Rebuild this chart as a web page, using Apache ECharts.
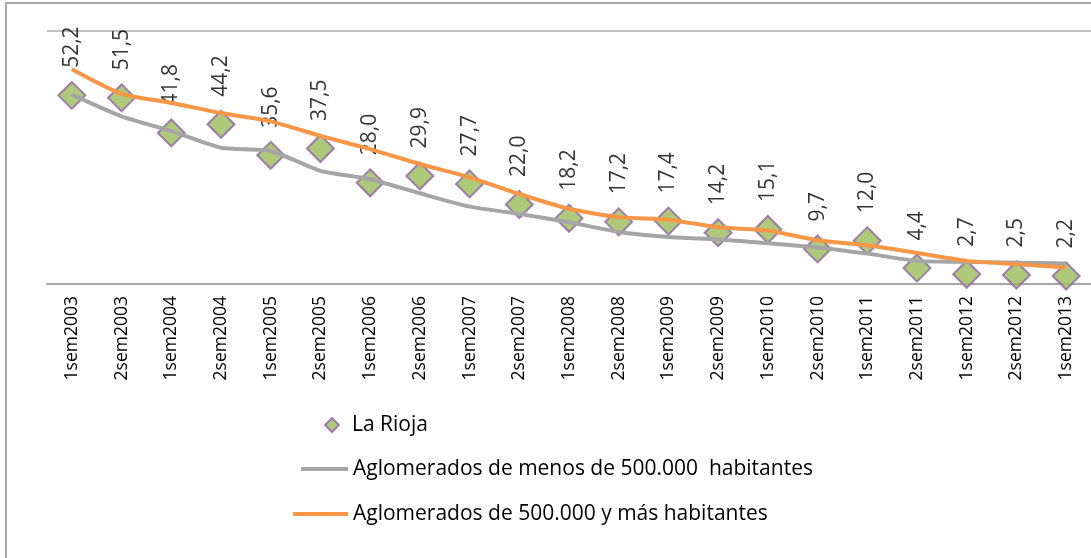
<!DOCTYPE html>
<html>
<head>
<meta charset="utf-8">
<script src="https://cdn.jsdelivr.net/npm/echarts@6/dist/echarts.min.js"></script>
<style>
    html, body { margin: 0; padding: 0; background: #fff; overflow: hidden; }
    #frame { position: absolute; left: 5px; top: 2px; width: 1300px; height: 800px; border: 2px solid #a6a6a6; }
    #main { position: absolute; left: 0; top: 0; width: 1091px; height: 558px; }
</style>
</head>
<body>
<div id="frame"></div>
<div id="main"></div>
<script>
    // categorias (semestres)
    var semestres = ['1sem2003', '2sem2003', '1sem2004', '2sem2004', '1sem2005', '2sem2005', '1sem2006',
        '2sem2006', '1sem2007', '2sem2007', '1sem2008', '2sem2008', '1sem2009', '2sem2009', '1sem2010',
        '2sem2010', '1sem2011', '2sem2011', '1sem2012', '2sem2012', '1sem2013'];

    // valores
    var laRioja = [52.2, 51.5, 41.8, 44.2, 35.6, 37.5, 28.0, 29.9, 27.7, 22.0, 18.2, 17.2, 17.4, 14.2,
        15.1, 9.7, 12.0, 4.4, 2.7, 2.5, 2.2];
    var menos500 = [52.4, 46.4, 42.3, 37.7, 36.8, 31.3, 29.0, 25.1, 21.4, 19.4, 17.1, 14.4, 13.0, 12.3,
        11.3, 10.1, 8.4, 6.4, 6.1, 5.9, 5.7];
    var mas500 = [59.4, 52.6, 50.1, 47.3, 45.0, 41.0, 37.3, 33.2, 29.5, 24.9, 20.8, 18.5, 17.8, 15.7,
        14.8, 12.1, 10.7, 8.6, 6.4, 5.5, 4.6];

    var nombres = ['La Rioja', 'Aglomerados de menos de 500.000  habitantes', 'Aglomerados de 500.000 y más habitantes'];

    var fuente = '"Open Sans", sans-serif';
    var myChart = echarts.init(document.getElementById('main'));

    var option = {
        animation: false,
        grid: {
            left: 47,
            top: 31,
            width: 1053,
            height: 253
        },
        legend: [{
            data: [nombres[0]],
            orient: 'vertical',
            left: 319,
            top: 408,
            icon: 'diamond',
            itemWidth: 14,
            itemHeight: 14,
            textStyle: {fontFamily: fuente, fontSize: 21, color: '#000', lineHeight: 24, padding: [0, 0, 0, 8]}
        }, {
            data: [nombres[1]],
            left: 296,
            top: 452,
            icon: 'rect',
            itemWidth: 47,
            itemHeight: 4,
            textStyle: {fontFamily: fuente, fontSize: 21, color: '#000', lineHeight: 24}
        }, {
            data: [nombres[2]],
            left: 288,
            top: 497,
            icon: 'rect',
            itemWidth: 55,
            itemHeight: 4,
            textStyle: {fontFamily: fuente, fontSize: 21, color: '#000', lineHeight: 24}
        }],
        xAxis: {
            type: 'category',
            data: semestres,
            boundaryGap: true,
            axisLine: {lineStyle: {color: '#a6a6a6', width: 2}},
            axisTick: {show: false},
            axisLabel: {
                rotate: 90,
                interval: 0,
                margin: 12,
                fontFamily: fuente,
                fontSize: 17.5,
                color: '#000'
            }
        },
        yAxis: {
            type: 'value',
            min: 0,
            max: 70,
            interval: 70,
            axisLabel: {show: false},
            axisLine: {show: false},
            axisTick: {show: false},
            splitLine: {lineStyle: {color: '#bfbfbf', width: 2}}
        },
        series: [{
            name: nombres[1],
            type: 'line',
            data: menos500,
            color: '#a5a5a5',
            showSymbol: false,
            smooth: 0.2,
            lineStyle: {width: 4, color: '#a5a5a5'}
        }, {
            name: nombres[2],
            type: 'line',
            data: mas500,
            color: '#f79646',
            showSymbol: false,
            smooth: 0.2,
            lineStyle: {width: 4, color: '#f79646'}
        }, {
            name: nombres[0],
            type: 'scatter',
            data: laRioja,
            symbol: 'diamond',
            symbolSize: [27, 27],
            itemStyle: {color: '#9bbb59', borderColor: '#9064a8', borderWidth: 2},
            label: {
                show: true,
                position: 'top',
                rotate: 90,
                align: 'left',
                verticalAlign: 'middle',
                distance: 13,
                fontFamily: fuente,
                fontSize: 21,
                color: '#000',
                formatter: function (p) {
                    return p.value.toFixed(1).replace('.', ',');
                }
            }
        }]
    };

    myChart.setOption(option);
</script>
</body>
</html>
